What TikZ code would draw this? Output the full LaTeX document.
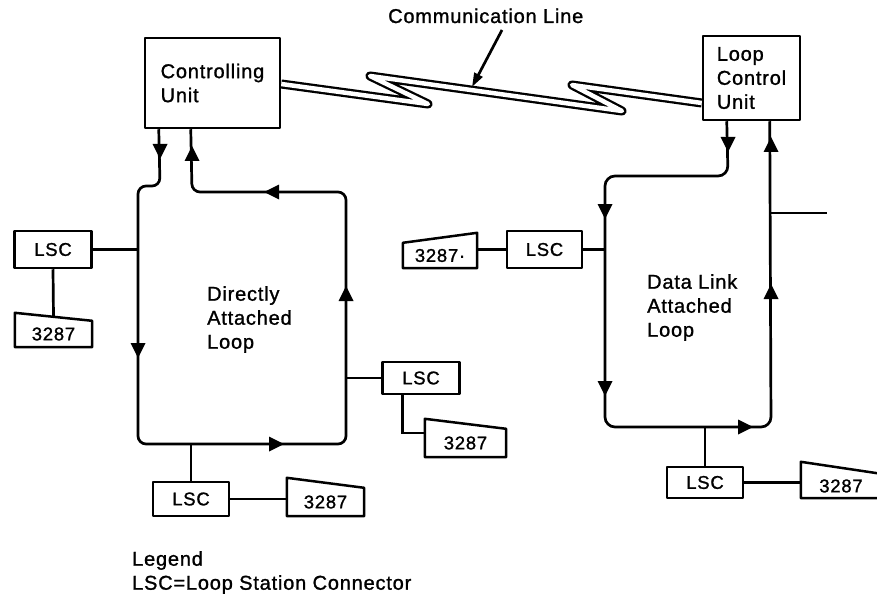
\documentclass[tikz,border=0pt]{standalone}
\usepackage{fontspec}
\setmainfont{Liberation Sans}[LetterSpace=4, FakeBold=1.2]
\usetikzlibrary{calc,arrows.meta,backgrounds}

% trapezoid outline of a 3287 printer: #1 node, #2 rise of left corner, #3 rise of right corner
\newcommand{\printerbox}[3]{%
  \draw[box] (#1.south west) -- (#1.south east)
    -- ($(#1.north east)+(0,-#3)$) -- ($(#1.north west)+(0,-#2)$) -- cycle;}

\tikzset{
  lbl/.style={font=\fontsize{20}{24}\selectfont},
  box/.style={draw, line width=2.5pt, line join=round},
  unit/.style={box, lbl, inner sep=0pt, align=left},
  lsc/.style={box, inner sep=0pt, minimum width=77pt, minimum height=35pt,
    font=\fontsize{18.5}{20}\selectfont},
  term/.style={inner sep=0pt, font=\fontsize{18.5}{20}\selectfont},
  wire/.style={line width=2.7pt},
  comline/.style={double, double distance=4.5pt, line width=2.3pt, line join=round},
  tri/.pic={\fill (1,0) -- (-14,7.5) -- (-14,-7.5) -- cycle;}
}

\begin{document}
\begin{tikzpicture}[x=1pt, y=-1pt]
\useasboundingbox (0,0) rectangle (877,596);

% control units
\node[unit, minimum width=135pt, minimum height=90pt] (cu) at (212.5,83) {Controlling\\Unit};
\node[unit, minimum width=97pt, minimum height=84pt] (lcu) at (751.5,78) {Loop\\Control\\Unit};

% communication line label and pointer
\node[lbl, anchor=base west, inner sep=0pt] (comm) at (388,23) {Communication Line};
\coordinate (ctail) at (502,30);
\coordinate (ctip) at (472,87);
\draw[wire, -{Triangle[length=14pt,width=9pt]}] (ctail) -- (ctip);

% zig-zag communication line
\begin{scope}[on background layer]
\draw[comline] ($(cu.east)+(0,1)$) -- (428,104) -- (370,76) -- (622,111) -- (572,85)
  -- ($(lcu.west)+(0,25)$);
\end{scope}

% loop side references
\coordinate (Lw) at (138,444);
\coordinate (Le) at (346,444);
\coordinate (Rw) at (605,427);
\coordinate (Re) at (771,427);

% directly attached loop
\draw[wire, rounded corners=8pt] (cu.south west) ++(15,0) -- (160,186) -- (138,186)
  -- (Lw) -- (Le) -- (346,192) -- (192,192) -- ($(cu.south west)+(47,0)$);
\pic[rotate=-90] at (160,158) {tri};
\pic[rotate=90] at (192,147) {tri};
\pic[rotate=180] at (265,192) {tri};
\pic[rotate=-90] at (138,357) {tri};
\pic at (283,444) {tri};
\pic[rotate=90] at (346,287) {tri};

% data link attached loop
\draw[wire, rounded corners=10pt] (lcu.south west) ++(25,0) -- (728,176) -- (605,176)
  -- (Rw) -- (Re) -- ($(lcu.south west)+(68,0)$);
\coordinate (brA) at (771,213);
\coordinate (brB) at (827,213);
\draw[wire] (brA) -- (brB);
\pic[rotate=-90] at (728,151) {tri};
\pic[rotate=90] at (771,138) {tri};
\pic[rotate=-90] at (605,218) {tri};
\pic[rotate=-90] at (605,395) {tri};
\pic at (752,427) {tri};
\pic[rotate=90] at (771,285) {tri};

% loop labels
\node[lbl, align=left, anchor=north west, inner sep=0pt] (dal) at (207,286) {Directly\\Attached\\Loop};
\node[lbl, align=left, anchor=north west, inner sep=0pt] (dll) at (647,274) {Data Link\\Attached\\Loop};

% stations on the directly attached loop
\node[lsc, minimum height=37pt] (l1) at (53,249.5) {LSC};
\node[term, minimum width=77pt, minimum height=26pt] (t1) at (53.5,334) {3287};
\printerbox{t1}{8}{0}
\draw[wire] (l1.east) -- (l1.east -| Lw);
\draw[wire] (l1.south) -- ($(t1.north)+(0,-4)$);

\node[lsc, minimum height=32pt] (l2) at (421,378) {LSC};
\node[term, minimum width=81pt, minimum height=28pt] (t2) at (465.5,443) {3287};
\printerbox{t2}{10}{0}
\draw[wire] (l2.west) -- (l2.west -| Le);
\draw[wire] ($(l2.south west)+(21,0)$) |- ($(t2.west)+(0,-10)$);

\node[lsc, minimum width=76pt, minimum height=34pt] (l3) at (191,499) {LSC};
\node[term, minimum width=77pt, minimum height=28pt] (t3) at (325.5,502) {3287};
\printerbox{t3}{10}{0}
\draw[wire] (l3.north) -- (l3.north |- Lw);
\draw[wire] (l3.east) -- (l3.east -| t3.west);

% stations on the data link attached loop
\node[lsc, minimum width=75pt, minimum height=37pt] (l4) at (544.5,249.5) {LSC};
\node[term, minimum width=74pt, minimum height=25pt] (t4) at (440,255.5) {3287·};
\printerbox{t4}{0}{10}
\draw[wire] (l4.east) -- (l4.east -| Rw);
\draw[wire] (l4.west) -- (l4.west -| t4.east);

\node[lsc, minimum width=76pt, minimum height=31pt] (l5) at (705,482.5) {LSC};
\node[term, minimum width=80pt, minimum height=24pt] (t5) at (841,486) {3287};
\printerbox{t5}{12}{0}
\draw[wire] (l5.north) -- (l5.north |- Rw);
\draw[wire] (l5.east) -- (l5.east -| t5.west);

% legend
\node[lbl, align=left, anchor=north west, inner sep=0pt] (leg) at (132,551) {Legend\\LSC=Loop Station Connector};
\end{tikzpicture}
\end{document}
